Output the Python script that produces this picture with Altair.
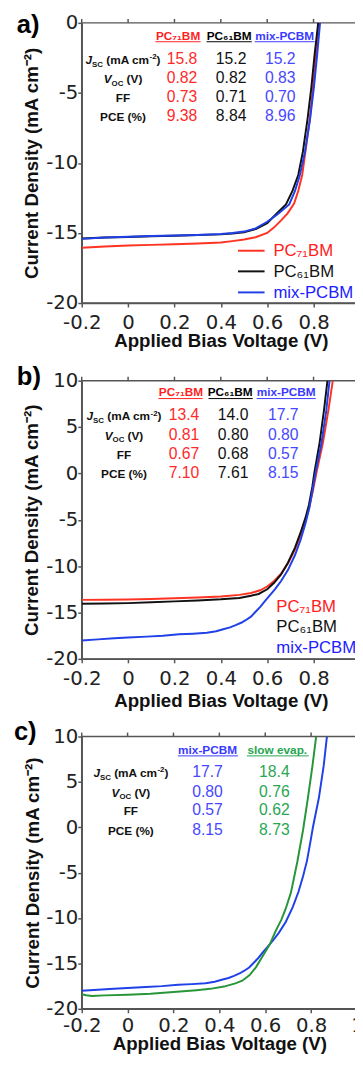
import altair as alt
import pandas as pd

# ------------------------------------------------------------------ data
X_TICKS = [-0.2, 0.0, 0.2, 0.4, 0.6, 0.8, 1.0]
YA_TICKS = [0, -5, -10, -15, -20]
YB_TICKS = [10, 5, 0, -5, -10, -15, -20]

NAMES_ALL = ["PC₇₁BM", "PC₆₁BM", "mix-PCBM", "slow evap."]
NAMES_AB = NAMES_ALL[:3]
NAMES_C = ["mix-PCBM", "slow evap."]

# panel a
a71_v = [-0.2, -0.1, 0.0, 0.1, 0.2, 0.3, 0.4, 0.45, 0.5, 0.55, 0.6, 0.63, 0.66, 0.688, 0.716, 0.734, 0.751, 0.765, 0.784, 0.798, 0.811, 0.822]
a71_j = [-16.05, -15.97, -15.9, -15.85, -15.8, -15.75, -15.68, -15.58, -15.47, -15.3, -15.0, -14.6, -14.1, -13.6, -12.9, -12.0, -10.86, -9.2, -6.88, -4.54, -2.2, 0.0]
a61_v = [-0.2, -0.1, 0.0, 0.1, 0.2, 0.3, 0.4, 0.45, 0.5, 0.553, 0.6, 0.638, 0.681, 0.709, 0.734, 0.754, 0.774, 0.791, 0.805, 0.82]
a61_j = [-15.4, -15.33, -15.28, -15.24, -15.2, -15.15, -15.1, -15.03, -14.95, -14.7, -14.3, -13.66, -12.96, -12.0, -10.86, -9.2, -6.88, -4.54, -2.2, 0.0]
amix_v = [-0.2, -0.1, 0.0, 0.1, 0.2, 0.3, 0.4, 0.45, 0.5, 0.55, 0.6, 0.645, 0.695, 0.72, 0.741, 0.763, 0.785, 0.802, 0.816, 0.828]
amix_j = [-15.42, -15.33, -15.27, -15.22, -15.18, -15.14, -15.08, -15.0, -14.9, -14.67, -14.2, -13.66, -12.96, -12.0, -10.86, -9.2, -6.88, -4.54, -2.2, 0.0]

# panel b
b71_v = [-0.2, -0.1, 0.0, 0.1, 0.2, 0.3, 0.4, 0.48, 0.53, 0.57, 0.6, 0.63, 0.66, 0.69, 0.72, 0.745, 0.765, 0.78, 0.797, 0.812, 0.84, 0.864, 0.883]
b71_j = [-13.64, -13.62, -13.6, -13.55, -13.47, -13.38, -13.28, -13.1, -12.9, -12.6, -12.2, -11.6, -10.8, -9.7, -8.2, -6.6, -5.1, -3.8, -1.9, 0.0, 3.25, 6.8, 10.0]
b61_v = [-0.2, -0.1, 0.0, 0.1, 0.2, 0.3, 0.4, 0.48, 0.53, 0.563, 0.6, 0.63, 0.66, 0.69, 0.72, 0.745, 0.765, 0.78, 0.795, 0.803, 0.826, 0.845, 0.86]
b61_j = [-14.06, -14.03, -13.99, -13.9, -13.8, -13.7, -13.58, -13.43, -13.2, -13.0, -12.5, -11.8, -10.9, -9.6, -8.0, -6.3, -4.8, -3.4, -1.4, 0.0, 3.3, 6.8, 10.0]
bmix_v = [-0.2, -0.13, -0.06, 0.0, 0.08, 0.15, 0.22, 0.28, 0.34, 0.38, 0.41, 0.44, 0.464, 0.49, 0.507, 0.53, 0.549, 0.57, 0.592, 0.613, 0.634, 0.66, 0.69, 0.72, 0.745, 0.765, 0.782, 0.797, 0.808, 0.834, 0.855, 0.869]
bmix_j = [-18.02, -17.9, -17.78, -17.7, -17.6, -17.5, -17.35, -17.28, -17.18, -17.02, -16.8, -16.6, -16.37, -16.08, -15.83, -15.45, -14.95, -14.4, -13.71, -13.1, -12.47, -11.6, -10.4, -8.8, -7.1, -5.4, -3.7, -1.6, 0.0, 3.25, 6.79, 10.0]

# panel c (mix-PCBM is the same device as in b)
cslow_v = [-0.2, -0.18, -0.156, -0.1, 0.0, 0.1, 0.2, 0.3, 0.36, 0.42, 0.47, 0.5, 0.532, 0.56, 0.59, 0.62, 0.646, 0.67, 0.689, 0.712, 0.74, 0.765, 0.786, 0.806, 0.822]
cslow_j = [-18.4, -18.5, -18.58, -18.52, -18.45, -18.35, -18.15, -17.95, -17.8, -17.55, -17.2, -16.9, -16.28, -15.4, -14.15, -12.9, -11.4, -10.2, -9.0, -7.2, -3.8, -0.3, 3.22, 6.78, 10.0]

# tables
TABLE_A = [["15.8", "0.82", "0.73", "9.38"], ["15.2", "0.82", "0.71", "8.84"], ["15.2", "0.83", "0.70", "8.96"]]
TABLE_B = [["13.4", "0.81", "0.67", "7.10"], ["14.0", "0.80", "0.68", "7.61"], ["17.7", "0.80", "0.57", "8.15"]]
TABLE_C = [["17.7", "0.80", "0.57", "8.15"], ["18.4", "0.76", "0.62", "8.73"]]

# ------------------------------------------------------------------ style
SANS = "Liberation Sans"
TICKF = "DejaVu Sans"
AX = "#555555"
LINE_ALL = ["#ff3322", "#111111", "#2040e8", "#27963a"]
TXT_AB = ["#ff2a2a", "#111111", "#4848ff"]
HDR_AB = ["#ff1f1f", "#000000", "#3a3aff"]
TXT_C = ["#4848ff", "#2aa653"]
HDR_C = ["#3a3aff", "#26a650"]
LEG_AB = ["#ff2020", "#111111", "#2020ff"]
MINUS = "\u2212"

ONE = pd.DataFrame({"k": [0]})
TOP_TICKS = pd.DataFrame({"V": X_TICKS})

LB = {"J": .556, "V": .667, "S": .667, "C": .722, "O": .778, " ": .278, "(": .333, ")": .333,
      "m": .889, "A": .722, "c": .556, "-": .333, "2": .556}


def wid(s, size):
    return sum(LB[ch] for ch in s) * size


def txt(s, x, y, size, color, bold=False, italic=False, align="left", font=SANS):
    kw = dict(text=s, align=align, baseline="alphabetic", font=font, fontSize=size, color=color,
              fontWeight="bold" if bold else "normal")
    if italic:
        kw["fontStyle"] = "italic"
    return alt.Chart(ONE).mark_text(**kw).encode(x=alt.value(x), y=alt.value(y))


def hrule(x1, x2, y, color, w=1.0):
    return alt.Chart(ONE).mark_rule(color=color, strokeWidth=w).encode(
        x=alt.value(x1), x2=alt.value(x2), y=alt.value(y))


def pieces_label(cx, y, parts):
    total = sum(wid(t, s) + g for t, s, it, dy, g in parts)
    x = cx - total / 2
    out = []
    for t, s, it, dy, g in parts:
        out.append(txt(t, x, y + dy, s, "#111111", bold=True, italic=it))
        x += wid(t, s) + g
    return out


def row_labels(cx, ys):
    out = []
    out += pieces_label(cx, ys[0], [("J", 12, True, 0, 0), ("SC", 8, False, 2.5, 3.3),
                                    ("(mA cm", 12, False, 0, 0), ("-2", 8, False, -5, 0), (")", 12, False, 0, 0)])
    out += pieces_label(cx, ys[1], [("V", 12, True, 0, 0), ("OC", 8, False, 2.5, 3.3), ("(V)", 12, False, 0, 0)])
    out.append(txt("FF", cx, ys[2], 12, "#111111", bold=True, align="center"))
    out.append(txt("PCE (%)", cx, ys[3], 12, "#111111", bold=True, align="center"))
    return out


def table(label_cx, hdr_y, hdr_cx, hdr_names, hdr_cols, hdr_ext, row_ys, val_cx, values, val_cols):
    out = []
    for name, cx, col, (x1, x2) in zip(hdr_names, hdr_cx, hdr_cols, hdr_ext):
        out.append(txt(name, cx, hdr_y, 12, col, bold=True, align="center"))
        out.append(hrule(x1, x2, hdr_y + 2.2, col))
    out += row_labels(label_cx, row_ys)
    for col_vals, cx, col in zip(values, val_cx, val_cols):
        for v, y in zip(col_vals, row_ys):
            out.append(txt(v, cx, y, 16, col, align="center"))
    return out


def x_bottom(title_y, pad):
    return alt.Axis(orient="bottom", values=X_TICKS, format=".1~f", labelFlush=False, labelOverlap=False,
                    labelExpr="replace(datum.label, '" + MINUS + "', '-')",
                    labelFont=TICKF, labelFontSize=20, labelColor="#222222", labelPadding=pad,
                    tickSize=4, tickWidth=1.5, tickColor=AX, domainColor=AX, domainWidth=1.5, grid=False,
                    title="Applied Bias Voltage (V)", titleFont=SANS, titleFontSize=19, titleFontWeight="bold",
                    titleColor="#111111", titleBaseline="alphabetic", titleY=title_y)


def y_left(vals, title_x):
    return alt.Axis(orient="left", values=vals, format="d", labelFlush=False, labelOverlap=False,
                    labelExpr="replace(datum.label, '" + MINUS + "', '-')",
                    labelFont=TICKF, labelFontSize=20, labelColor="#222222", labelPadding=0,
                    tickSize=4, tickWidth=1.5, tickColor=AX, domainColor=AX, domainWidth=1.5, grid=False,
                    title="Current Density (mA cm⁻²)", titleFont=SANS, titleFontSize=19, titleFontWeight="bold",
                    titleColor="#111111", titleBaseline="middle", titleX=title_x)


def curves(pairs):
    rows = []
    for name, vs, js in pairs:
        for i, (v, j) in enumerate(zip(vs, js)):
            rows.append({"series": name, "V": v, "J": j, "i": i})
    return pd.DataFrame(rows)


def panel(df, ydom, yticks, w, h, title_y, title_x, pad, extra):
    xs = alt.Scale(domain=[-0.2, 1.0], nice=False, zero=False)
    ys = alt.Scale(domain=ydom, nice=False, zero=False)
    xax = x_bottom(title_y, pad)
    lines = alt.Chart(df).mark_line(strokeWidth=2, clip=True).encode(
        x=alt.X("V:Q", scale=xs, axis=xax),
        y=alt.Y("J:Q", scale=ys, axis=y_left(yticks, title_x)),
        color=alt.Color("series:N", scale=alt.Scale(domain=NAMES_ALL, range=LINE_ALL), legend=None),
        order=alt.Order("i:Q"),
    )
    top_ticks = alt.Chart(TOP_TICKS).mark_rule(color=AX, strokeWidth=1.5).encode(
        x=alt.X("V:Q", scale=xs, axis=xax), y=alt.value(-4), y2=alt.value(0))
    return alt.layer(lines, top_ticks, *extra).properties(width=w, height=h)


# ------------------------------------------------------------------ panel a
extra_a = [txt("a)", -66, 10.5, 26, "#000000", bold=True)]
extra_a += table(42, 17, [98, 150, 206.5], NAMES_AB, HDR_AB, [(75, 121), (127, 173), (176, 237)],
                 [42, 61.5, 81, 100], [102, 152, 202], TABLE_A, TXT_AB)
for col, ly in zip(LINE_ALL[:3], [231.8, 252.8, 274.2]):
    extra_a.append(hrule(159, 186, ly, col, 2))
for col, ty, name in zip(LEG_AB, [237.3, 258.7, 279.7], NAMES_AB):
    extra_a.append(txt(name, 195, ty, 17, col))
df_a = curves([(NAMES_AB[0], a71_v, a71_j), (NAMES_AB[1], a61_v, a61_j), (NAMES_AB[2], amix_v, amix_j)])
pa = panel(df_a, [-20, 0], YA_TICKS, 283, 285, 44, -51, 6, extra_a)

# ------------------------------------------------------------------ panel b
extra_b = [txt("b)", -66, 4.5, 26, "#000000", bold=True)]
extra_b += table(43, 16, [101, 151, 208], NAMES_AB, HDR_AB, [(78, 123), (129, 174), (178, 238)],
                 [40.5, 60, 79.3, 98.5], [104, 154, 205], TABLE_B, TXT_AB)
for col, ty, name in zip(LEG_AB, [235.3, 256, 277], NAMES_AB):
    extra_b.append(txt(name, 198, ty, 17, col))
df_b = curves([(NAMES_AB[0], b71_v, b71_j), (NAMES_AB[1], b61_v, b61_j), (NAMES_AB[2], bmix_v, bmix_j)])
pb = panel(df_b, [-20, 10], YB_TICKS, 283, 283, 48, -51, 6, extra_b)

# ------------------------------------------------------------------ panel c
extra_c = [txt("c)", -69, 4, 26, "#000000", bold=True)]
extra_c += table(50, 17.5, [128, 199], NAMES_C, HDR_C, [(98, 159), (168, 231)],
                 [41.3, 61.3, 80.3, 99.7], [128, 196], TABLE_C, TXT_C)
df_c = curves([(NAMES_C[0], bmix_v, bmix_j), (NAMES_C[1], cslow_v, cslow_j)])
pc = panel(df_c, [-20, 10], YB_TICKS, 280, 277, 41, -50, 3, extra_c)

chart = alt.vconcat(alt.vconcat(pa, pb, spacing=12), pc, spacing=8).properties(
    padding={"left": 5, "top": -6, "right": -13, "bottom": 0}, background="white"
).configure_view(stroke=AX, strokeWidth=1.5)

chart.save("out.html", embed_options={"renderer": "svg", "actions": False})
